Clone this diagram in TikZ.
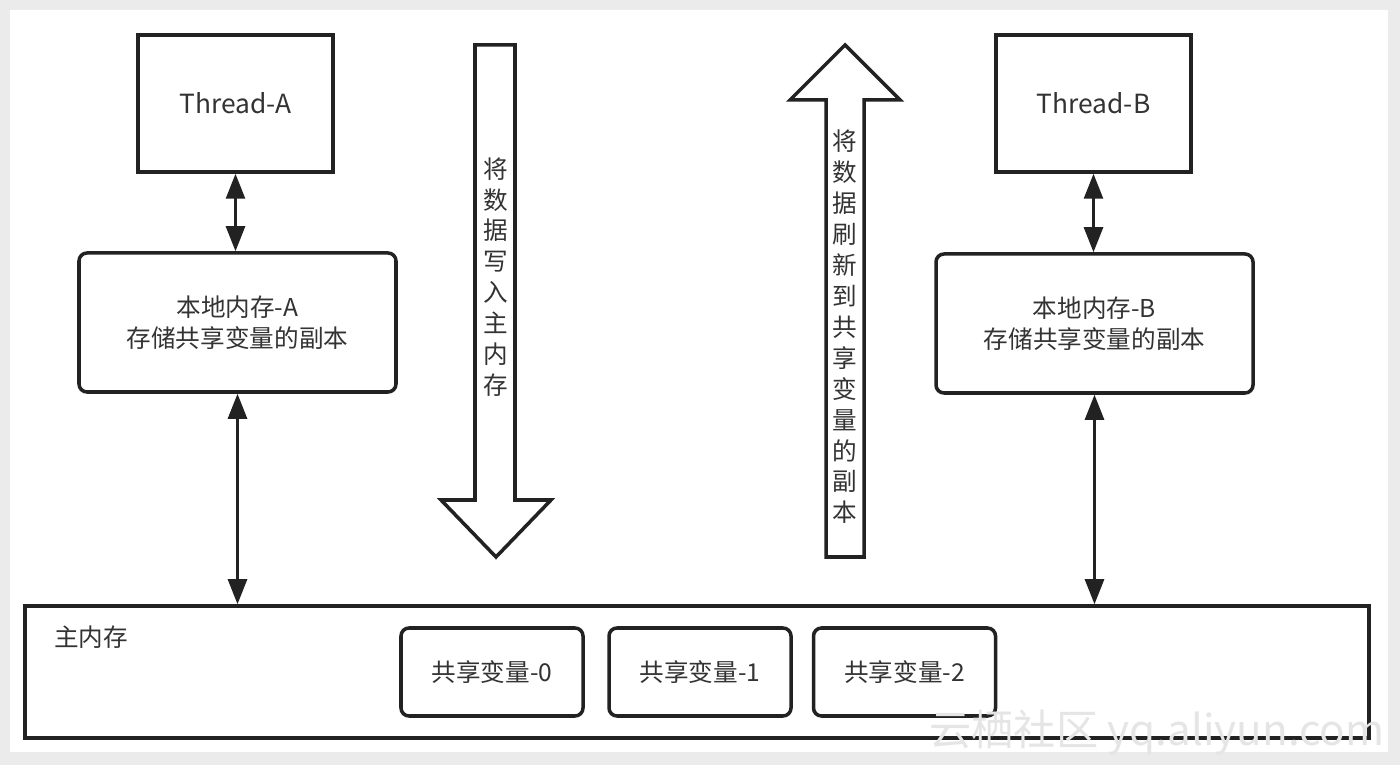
\documentclass[tikz,border=0pt]{standalone}
\usepackage{fontspec}
\setmainfont{Noto Sans CJK SC}
\usetikzlibrary{arrows.meta}
\definecolor{linecol}{HTML}{222222}
\definecolor{txtcol}{HTML}{333333}

\begin{document}
\begin{tikzpicture}[
  box/.style={draw=linecol, line width=2pt, fill=white, text=txtcol,
    font=\fontsize{14}{18}\selectfont, align=center, inner sep=0pt},
  roundbox/.style={box, rounded corners=0.16cm},
  link/.style={draw=linecol, line width=1.5pt,
    {Triangle[length=0.5cm,width=0.38cm]}-{Triangle[length=0.5cm,width=0.38cm]}},
  bigarrow/.style={draw=linecol, line width=2pt, fill=white, line join=miter},
  vtext/.style={text=txtcol, font=\fontsize{14}{17.6}\selectfont, align=center, inner sep=0pt}
]
\useasboundingbox (0,0) rectangle (28,15.3);
% 背景
\fill[black!8] (0,0) rectangle (28,15.3);
\fill[white] (0.2,0.26) rectangle (27.76,15.1);

% 线程与本地内存
\node[box, font=\fontsize{15}{18}\selectfont, minimum width=3.9cm, minimum height=2.74cm] (threadA)
  at (4.71,13.23) {Thread-A};
\node[box, font=\fontsize{15}{18}\selectfont, minimum width=3.9cm, minimum height=2.74cm] (threadB)
  at (21.87,13.23) {Thread-B};
\node[roundbox, minimum width=6.34cm, minimum height=2.78cm] (localA) at (4.75,8.85)
  {本地内存-A\\存储共享变量的副本};
\node[roundbox, minimum width=6.34cm, minimum height=2.78cm] (localB) at (21.89,8.83)
  {本地内存-B\\存储共享变量的副本};

% 主内存
\node[box, minimum width=26.88cm, minimum height=2.64cm] (main) at (13.94,1.86) {};
\node[text=txtcol, font=\fontsize{14}{18}\selectfont, anchor=west, inner sep=0pt] (mainlabel)
  at (1.08,2.56) {主内存};
\node[roundbox, minimum width=3.64cm, minimum height=1.76cm] (var0) at (9.84,1.86) {共享变量-0};
\node[roundbox, minimum width=3.64cm, minimum height=1.76cm] (var1) at (14.0,1.86) {共享变量-1};
\node[roundbox, minimum width=3.64cm, minimum height=1.76cm] (var2) at (18.09,1.86) {共享变量-2};

% 双向箭头
\draw[link] (threadA.south) -- (threadA.south |- localA.north);
\draw[link] (localA.south) -- (localA.south |- main.north);
\draw[link] (threadB.south) -- (threadB.south |- localB.north);
\draw[link] (localB.south) -- (localB.south |- main.north);

% 写入主内存
\draw[bigarrow] (9.5,14.4) -- (10.3,14.4) -- (10.3,5.3) -- (11.02,5.3) -- (9.92,4.16)
  -- (8.82,5.3) -- (9.5,5.3) -- cycle;
\node[vtext] (writetext) at (9.92,9.76) {将\\数\\据\\写\\入\\主\\内\\存};

% 刷新到副本
\draw[bigarrow] (16.52,4.16) -- (17.28,4.16) -- (17.28,13.3) -- (18.0,13.3) -- (16.9,14.4)
  -- (15.8,13.3) -- (16.52,13.3) -- cycle;
\node[vtext] (flushtext) at (16.9,8.76) {将\\数\\据\\刷\\新\\到\\共\\享\\变\\量\\的\\副\\本};

% 水印
\node[text=black!10, font=\fontsize{24}{28}\selectfont, inner sep=0pt] (mark) at (23.14,0.64)
  {云栖社区 yq.aliyun.com};
\end{tikzpicture}
\end{document}
